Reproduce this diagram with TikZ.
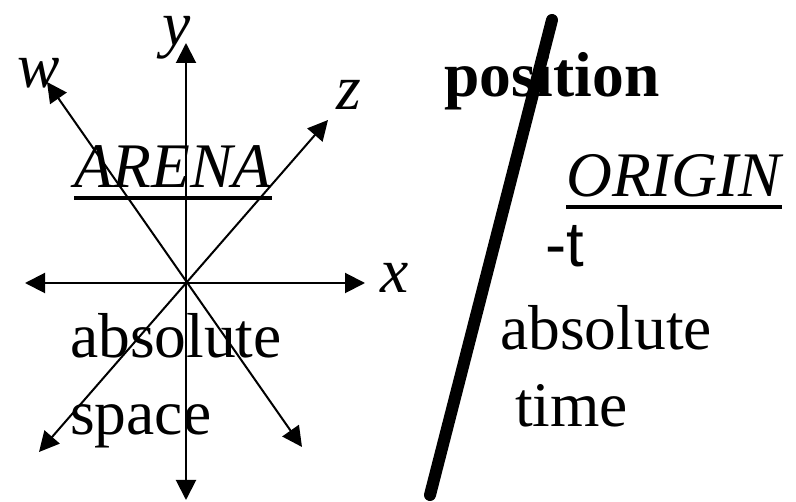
\documentclass[tikz,border=0pt]{standalone}
\usepackage{fontspec}
\setmainfont{Liberation Serif}
\newfontfamily\arialfont{Liberation Sans}
\usetikzlibrary{arrows.meta}

\begin{document}
\begin{tikzpicture}[x=1pt,y=-1pt,>={Triangle[length=20pt,width=20pt]},
 axis/.style={line width=2pt,<->},
 lbl/.style={inner sep=0pt,anchor=base west,font=\fontsize{63.5}{72}\selectfont},
 ital/.style={lbl,font=\fontsize{63.5}{72}\selectfont\itshape},
 uline/.style={line width=4pt}]
\useasboundingbox (0,0) rectangle (796,502);
% space axes
\coordinate (o) at (186,283);
\coordinate (xl) at (25,283);\coordinate (xr) at (365,283);
\coordinate (yt) at (186,43);\coordinate (yb) at (186,500);
\coordinate (wt) at (47,82);\coordinate (wb) at (302,447);
\coordinate (zt) at (328,120);\coordinate (zb) at (39,452);
\draw[axis] (xl)--(xr);\draw[axis] (yb)--(yt);
\draw[axis] (wb)--(wt);\draw[axis] (zb)--(zt);
\node[ital] (ylbl) at (162,46) {y};
\node[ital] (wlbl) at (17,88) {w};
\node[ital] (zlbl) at (336,110) {z};
\node[ital] (xlbl) at (380,293) {x};
\node[ital] (arena) at (74,188) {ARENA};
\draw[uline] ([yshift=-10pt]arena.base west)--([yshift=-10pt]arena.base east);
\node[lbl] (abs1) at (70,358) {absolute};
\node[lbl] (space) at (70,435) {space};
% time line
\coordinate (t1) at (552,20);\coordinate (t2) at (430,495);
\draw[line width=12pt,line cap=round] (t1)--(t2);
\node[lbl,font=\fontsize{63.5}{72}\selectfont\bfseries] (pos) at (444,97) {position};
\node[ital] (origin) at (566,197) {ORIGIN};
\draw[uline] ([yshift=-10pt]origin.base west)--([yshift=-10pt]origin.base east);
\node[lbl,font=\fontsize{63.5}{72}\selectfont\arialfont] (mt) at (545,267) {-t};
\node[lbl] (abs2) at (500,350) {absolute};
\node[lbl] (time) at (515,427) {time};
\end{tikzpicture}
\end{document}
